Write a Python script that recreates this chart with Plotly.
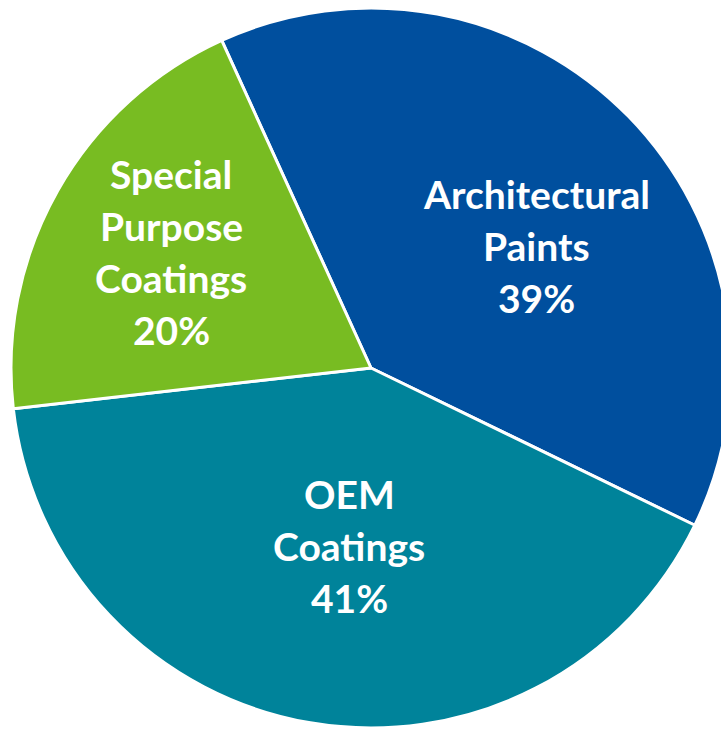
import plotly.graph_objects as go

# Market share by coating segment
segments = ["Architectural Paints", "OEM Coatings", "Special Purpose Coatings"]
shares = [39, 41, 20]
label_lines = [["Architectural", "Paints"], ["OEM", "Coatings"], ["Special", "Purpose", "Coatings"]]
colors = ["#004F9E", "#00839A", "#78BC22"]

# Canvas and label layout (pixels)
W, H = 745, 730
PIE_BOX = (11, 8, 731, 728)  # left, top, right, bottom of the pie area
label_centers = [(536, 246), (349, 546), (171, 252)]
LINE_PITCH = 52
FONT = dict(family="Lato, 'Open Sans', sans-serif", size=39, color="white")

fig = go.Figure(
    go.Pie(
        labels=segments,
        values=shares,
        sort=False,
        direction="clockwise",
        rotation=-24.5,
        marker=dict(colors=colors, line=dict(color="white", width=3)),
        textinfo="none",
        hoverinfo="label+percent",
        domain=dict(
            x=[PIE_BOX[0] / W, PIE_BOX[2] / W],
            y=[1 - PIE_BOX[3] / H, 1 - PIE_BOX[1] / H],
        ),
        showlegend=False,
    )
)

total = sum(shares)
annotations = []
for lines, share, (cx, cy) in zip(label_lines, shares, label_centers):
    rows = lines + [f"{round(100 * share / total)}%"]
    top = cy - LINE_PITCH * (len(rows) - 1) / 2
    for i, row in enumerate(rows):
        annotations.append(
            dict(
                text=f"<b>{row}</b>",
                x=cx / W,
                y=1 - (top + i * LINE_PITCH) / H,
                xref="paper",
                yref="paper",
                xanchor="center",
                yanchor="middle",
                showarrow=False,
                font=FONT,
            )
        )

fig.update_layout(
    width=W,
    height=H,
    margin=dict(l=0, r=0, t=0, b=0),
    paper_bgcolor="white",
    plot_bgcolor="white",
    annotations=annotations,
)

fig.write_html(
    "out.html",
    post_script="document.body.style.margin='0';document.body.style.overflow='hidden';",
)
